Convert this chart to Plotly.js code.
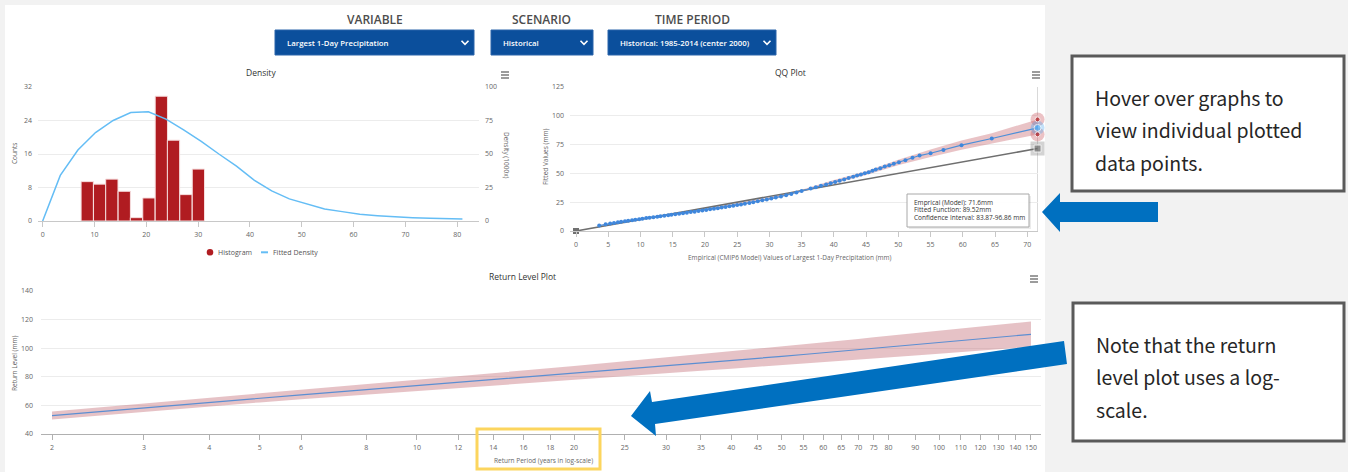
<!DOCTYPE html>
<html><head><meta charset="utf-8">
<script src="https://cdn.plot.ly/plotly-3.0.1.min.js"></script>
<style>html,body{margin:0;padding:0;background:#f2f2f2;}#chart{width:1348px;height:472px;}</style>
</head><body><div id="chart"></div>
<script>
// ---------------- DATA ----------------
const headerLabels = ["VARIABLE", "SCENARIO", "TIME PERIOD"];
const dropdownTexts = ["Largest 1-Day Precipitation", "Historical", "Historical: 1985-2014 (center 2000)"];
const legendNames = ["Histogram", "Fitted Density"];

const histBinCenters = [8.6, 11.0, 13.35, 15.75, 18.1, 20.5, 22.9, 25.25, 27.65, 30.05];
const histCounts = [9.4, 8.8, 10.0, 7.1, 0.8, 5.5, 29.8, 19.3, 6.3, 12.4];
const histBinWidth = 2.37;

const densityX = [0, 3.4, 6.8, 10.2, 13.6, 17.0, 20.4, 23.8, 27.2, 30.6, 34.0, 37.4, 40.8, 44.2, 47.6, 51.0, 54.4, 57.8, 61.2, 64.6, 68.0, 71.4, 74.8, 78.2, 81.0];
const densityY = [0, 34, 53, 66, 75, 81, 81.5, 76, 68, 59.5, 50, 41, 30.5, 22.5, 16.5, 12.5, 9.0, 7.0, 5.0, 4.0, 3.1, 2.5, 2.0, 1.7, 1.5];

const qqEmpirical = [3.6, 4.6, 5.3, 5.9, 6.5, 7.0, 7.6, 8.1, 8.7, 9.2, 9.8, 10.3, 10.9, 11.4, 12.0, 12.6, 13.1, 13.7, 14.3, 14.8, 15.4, 16.0, 16.6, 17.2, 17.8, 18.4, 19.0, 19.6, 20.2, 20.8, 21.4, 22.0, 22.6, 23.2, 23.8, 24.4, 25.0, 25.6, 26.2, 26.9, 27.5, 28.2, 28.9, 29.6, 30.3, 31.0, 31.8, 32.6, 33.4, 34.2, 35.0, 36.4, 37.2, 38.0, 38.8, 39.5, 40.2, 40.9, 41.6, 42.3, 43.0, 43.6, 44.2, 44.8, 45.4, 46.0, 46.5, 47.2, 47.9, 48.6, 49.3, 50.1, 51.1, 52.2, 53.3, 55.0, 57.0, 59.8, 64.5, 71.6];
const qqFitted = [4.7, 5.8, 6.5, 7.0, 7.5, 8.0, 8.5, 9.0, 9.4, 9.8, 10.3, 10.7, 11.2, 11.6, 12.0, 12.4, 12.8, 13.3, 13.7, 14.1, 14.5, 15.0, 15.4, 15.9, 16.4, 16.8, 17.3, 17.8, 18.3, 18.8, 19.3, 19.8, 20.3, 20.8, 21.4, 21.9, 22.5, 23.1, 23.7, 24.4, 25.0, 25.8, 26.6, 27.4, 28.2, 29.0, 30.0, 31.1, 32.2, 33.4, 34.7, 36.8, 38.0, 39.2, 40.4, 41.5, 42.6, 43.7, 44.8, 45.9, 47.1, 48.1, 49.1, 50.1, 51.1, 52.2, 53.3, 54.5, 55.9, 57.1, 58.3, 59.7, 61.4, 63.5, 65.5, 67.5, 70.4, 74.5, 80.3, 89.52];
const qqBandX = [3.6, 10, 20, 30, 35, 40, 45, 50.1, 55, 59.8, 64.5, 71.6];
const qqBandLow = [4.2, 9.9, 17.7, 27.2, 33.8, 41.0, 48.6, 57.4, 64.3, 70.6, 75.9, 83.87];
const qqBandHigh = [5.2, 11.1, 19.1, 29.2, 35.8, 44.2, 51.9, 62.0, 70.8, 78.5, 84.8, 96.86];
const qqTooltipLines = ["Emprical (Model): 71.6mm", "Fitted Function: 89.52mm", "Confidence Interval: 83.87-96.86 mm"];

const returnPeriods = [2, 3, 4, 5, 6, 8, 10, 12, 14, 16, 18, 20, 25, 30, 35, 40, 45, 50, 55, 60, 65, 70, 75, 80, 90, 100, 110, 120, 130, 140, 150];
const returnLevel = [52.8, 58.3, 62.2, 65.1, 67.4, 71.0, 73.8, 76.0, 77.9, 79.6, 81.1, 82.4, 85.3, 87.6, 89.6, 91.4, 92.9, 94.3, 95.6, 96.8, 97.9, 98.9, 99.9, 100.8, 102.4, 103.9, 105.2, 106.5, 107.6, 108.7, 109.7];
const returnUpper = [55.8, 61.3, 65.3, 68.3, 70.8, 74.7, 77.8, 80.3, 82.4, 84.3, 86.0, 87.5, 90.8, 93.5, 95.8, 97.9, 99.6, 101.1, 102.6, 104.0, 105.3, 106.5, 107.6, 108.6, 110.6, 112.4, 113.9, 115.3, 116.6, 117.7, 118.7];
const returnLower = [50.2, 55.6, 59.3, 62.1, 64.3, 67.6, 70.2, 72.2, 74.0, 75.5, 76.8, 78.0, 80.5, 82.5, 84.2, 85.7, 87.0, 88.2, 89.3, 90.3, 91.2, 92.0, 92.8, 93.5, 94.9, 96.1, 97.2, 98.2, 99.2, 100.1, 101.0];

const noteLines1 = ["Hover over graphs to", "view individual plotted", "data points."];
const noteLines2 = ["Note that the return", "level plot uses a log-", "scale."];

// ---------------- HELPERS ----------------
const W = 1348, H = 472;
const px = x => x / W;
const py = y => 1 - y / H;
const FONT = "Open Sans";
const tickFont = {family: FONT, size: 7, color: "#666"};
const last = a => a[a.length - 1];
const HIST_COLOR = "#b01c21";
const DENS_COLOR = "#64bdf5";

// ---------------- TRACES ----------------
const traces = [];
traces.push({type: "bar", x: histBinCenters, y: histCounts, width: histBinWidth, name: legendNames[0],
  marker: {color: HIST_COLOR, line: {color: "#f6dede", width: 1}}, xaxis: "x", yaxis: "y",
  showlegend: false, hoverinfo: "skip"});
traces.push({type: "scatter", mode: "lines", x: densityX, y: densityY, name: legendNames[1],
  line: {color: DENS_COLOR, width: 1.5}, xaxis: "x", yaxis: "y2", showlegend: false});

traces.push({type: "scatter", mode: "lines", fill: "toself",
  x: qqBandX.concat(qqBandX.slice().reverse()),
  y: qqBandHigh.concat(qqBandLow.slice().reverse()),
  line: {width: 0}, fillcolor: "rgba(196,96,106,0.38)", xaxis: "x2", yaxis: "y3", showlegend: false, hoverinfo: "skip"});
const qqLineX = [0].concat(qqEmpirical);
traces.push({type: "scatter", mode: "lines", x: qqLineX, y: qqLineX,
  line: {color: "#6f6f6f", width: 1.6}, xaxis: "x2", yaxis: "y3", showlegend: false, hoverinfo: "skip"});
traces.push({type: "scatter", mode: "markers", x: [qqLineX[0]], y: [qqLineX[0]],
  marker: {color: "#707070", size: 6, symbol: "square"}, xaxis: "x2", yaxis: "y3", showlegend: false, cliponaxis: false});
traces.push({type: "scatter", mode: "lines+markers", x: qqEmpirical, y: qqFitted,
  line: {color: "#4d8fd8", width: 1.2}, marker: {color: "#3f87dc", size: 4},
  xaxis: "x2", yaxis: "y3", showlegend: false, hoverinfo: "skip"});
const lx = last(qqEmpirical);
const hlY = [last(qqBandHigh), last(qqBandLow), last(qqFitted), lx];
traces.push({type: "scatter", mode: "markers", x: [lx, lx, lx, lx], y: hlY,
  marker: {size: 14, color: ["rgba(200,80,90,0.35)", "rgba(200,80,90,0.35)", "rgba(80,170,240,0.35)", "rgba(110,110,110,0.3)"], symbol: ["circle", "circle", "circle", "square"]},
  xaxis: "x2", yaxis: "y3", showlegend: false, cliponaxis: false, hoverinfo: "skip"});
traces.push({type: "scatter", mode: "markers", x: [lx, lx, lx, lx], y: hlY,
  marker: {size: [5, 5, 7, 7], color: [HIST_COLOR, HIST_COLOR, "#5fb6f7", "#707070"], symbol: ["circle", "circle", "circle", "square"]},
  xaxis: "x2", yaxis: "y3", showlegend: false, cliponaxis: false, hoverinfo: "skip"});

traces.push({type: "scatter", mode: "lines", fill: "toself",
  x: returnPeriods.concat(returnPeriods.slice().reverse()),
  y: returnUpper.concat(returnLower.slice().reverse()),
  line: {width: 0}, fillcolor: "rgba(196,110,120,0.42)", xaxis: "x3", yaxis: "y4", showlegend: false, hoverinfo: "skip"});
traces.push({type: "scatter", mode: "lines", x: returnPeriods, y: returnLevel,
  line: {color: "#5b8ed2", width: 1.2}, xaxis: "x3", yaxis: "y4", showlegend: false, hoverinfo: "skip"});

// ---------------- SHAPES ----------------
const shapes = [];
const rectPx = (x0, y0, x1, y1, opt) => Object.assign({type: "rect", xref: "paper", yref: "paper",
  x0: px(x0), x1: px(x1), y0: py(y1), y1: py(y0)}, opt);
const pathPx = (pts, opt) => Object.assign({type: "path", xref: "paper", yref: "paper",
  path: "M" + pts.map(p => px(p[0]).toFixed(5) + "," + py(p[1]).toFixed(5)).join(" L") + " Z"}, opt);
const linePx = (x0, y0, x1, y1, opt) => Object.assign({type: "line", xref: "paper", yref: "paper",
  x0: px(x0), x1: px(x1), y0: py(y0), y1: py(y1)}, opt);

shapes.push(rectPx(5, 5, 1045, 480, {fillcolor: "#ffffff", line: {width: 0}, layer: "below"}));
const ddBoxes = [[275, 474], [491, 593], [608, 776]];
ddBoxes.forEach(b => {
  shapes.push(rectPx(b[0], 30, b[1], 55, {fillcolor: "#0b4f9c", line: {color: "#2a64aa", width: 1}}));
  const cx = b[1] - 9, cy = 42.5;
  shapes.push({type: "path", xref: "paper", yref: "paper",
    path: `M${px(cx - 3.5)},${py(cy - 1.8)} L${px(cx)},${py(cy + 1.8)} L${px(cx + 3.5)},${py(cy - 1.8)}`,
    line: {color: "#ffffff", width: 1.6}});
});
[[505, 75], [1036, 75], [1034, 279]].forEach(p => {
  [-3, 0, 3].forEach(d => shapes.push(linePx(p[0] - 4, p[1] + d, p[0] + 4, p[1] + d, {line: {color: "#666", width: 1.3}})));
});
shapes.push({type: "circle", xref: "paper", yref: "paper", x0: px(206.7), x1: px(213.3), y0: py(255.6), y1: py(248.9),
  fillcolor: HIST_COLOR, line: {width: 0}});
shapes.push(linePx(261, 252.3, 268, 252.3, {line: {color: DENS_COLOR, width: 2}}));
shapes.push({type: "line", xref: "x2", yref: "y3 domain", x0: lx, x1: lx, y0: 0, y1: 1, line: {color: "#d8d8d8", width: 1}, layer: "below"});
shapes.push(rectPx(909, 196, 1031, 229, {fillcolor: "rgba(0,0,0,0.08)", line: {width: 0}}));
shapes.push(rectPx(907, 194, 1029, 227, {fillcolor: "rgba(255,255,255,0.96)", line: {color: "#a8a8a8", width: 1}}));
// yellow highlight box
shapes.push(rectPx(477, 429, 600, 469, {fillcolor: "rgba(0,0,0,0)", line: {color: "#fcd55e", width: 3}}));
shapes.push(rectPx(1072, 56, 1344, 191, {fillcolor: "#ffffff", line: {color: "#5a5a5a", width: 3}}));
shapes.push(rectPx(1073, 303, 1344, 441, {fillcolor: "#ffffff", line: {color: "#5a5a5a", width: 3}}));
shapes.push(pathPx([[1042, 212], [1060, 193], [1060, 202], [1158, 202], [1158, 222], [1060, 222], [1060, 232]],
  {fillcolor: "#0070c0", line: {width: 0}}));
shapes.push(pathPx([[631, 416], [650, 391], [652, 402], [1064, 341], [1067, 364], [655, 424], [656, 436]],
  {fillcolor: "#0070c0", line: {width: 0}}));

// ---------------- ANNOTATIONS ----------------
const ann = [];
const txt = (x, y, text, opt) => Object.assign({xref: "paper", yref: "paper", x: px(x), y: py(y), text: text,
  showarrow: false, xanchor: "center", yanchor: "middle", font: {family: FONT, size: 8, color: "#333"}}, opt);

[375, 541, 692].forEach((x, i) => ann.push(txt(x, 19, headerLabels[i], {font: {family: FONT, size: 12, color: "#4d4d4d", weight: 600}})));
ddBoxes.forEach((b, i) => ann.push(txt(b[0] + 10, 42.5, dropdownTexts[i], {xanchor: "left", font: {family: FONT, size: 7.8, color: "#ffffff", weight: 600}})));

ann.push(txt(261, 72, "Density", {font: {family: FONT, size: 8.5, color: "#333"}}));
ann.push(txt(790, 72, "QQ Plot", {font: {family: FONT, size: 8.5, color: "#333"}}));
ann.push(txt(522, 276, "Return Level Plot", {font: {family: FONT, size: 8.5, color: "#333"}}));

const legFont = {family: FONT, size: 7, color: "#555"};
ann.push(txt(216, 252.3, legendNames[0], {xanchor: "left", font: legFont}));
ann.push(txt(271, 252.3, legendNames[1], {xanchor: "left", font: legFont}));

const axTitle = {family: FONT, size: 6.5, color: "#666"};
ann.push(txt(14, 154, "Counts", {textangle: -90, font: axTitle}));
ann.push(txt(507, 155, "Density (1000x)", {textangle: 90, font: axTitle}));
ann.push(txt(545, 157, "Fitted Values (mm)", {textangle: -90, font: axTitle}));
ann.push(txt(790, 257, "Empirical (CMIP6 Model) Values of Largest 1-Day Precipitation (mm)", {font: axTitle}));
ann.push(txt(14, 363, "Return Level (mm)", {textangle: -90, font: axTitle}));
ann.push(txt(543, 460, "Return Period (years in log-scale)", {font: axTitle}));

qqTooltipLines.forEach((t, i) => ann.push(txt(912, 202 + i * 7.8, t, {xanchor: "left", font: {family: FONT, size: 6.5, color: "#333"}})));

const noteFont = {family: "Noto Sans CJK SC", size: 19.5, color: "#262626"};
noteLines1.forEach((t, i) => ann.push(txt(1093, 97 + i * 32.7, t, {xanchor: "left", font: noteFont})));
noteLines2.forEach((t, i) => ann.push(txt(1094, 344 + i * 32.7, t, {xanchor: "left", font: noteFont})));

// ---------------- LAYOUT ----------------
const gridColor = "#ececec";
const axisLine = "#c8c8c8";
const layout = {
  width: W, height: H, margin: {l: 0, r: 0, t: 0, b: 0},
  paper_bgcolor: "#f2f2f2", plot_bgcolor: "rgba(0,0,0,0)",
  font: {family: FONT, color: "#666"},
  bargap: 0,
  showlegend: false,
  xaxis: {domain: [px(38), px(479)], anchor: "y", range: [-0.9, 84.2], tickvals: [0, 10, 20, 30, 40, 50, 60, 70, 80],
    showgrid: false, zeroline: false, showline: true, linecolor: axisLine, ticks: "outside", ticklen: 5, tickcolor: axisLine,
    tickfont: tickFont, ticklabelstandoff: 2},
  yaxis: {domain: [py(221), py(87)], anchor: "x", range: [0, 32], tickvals: [0, 8, 16, 24, 32],
    gridcolor: gridColor, zeroline: false, showline: false, tickfont: tickFont, ticklabelstandoff: 5},
  yaxis2: {overlaying: "y", side: "right", anchor: "x", range: [0, 100], tickvals: [0, 25, 50, 75, 100],
    showgrid: false, zeroline: false, showline: false, tickfont: tickFont, ticklabelstandoff: 5},
  xaxis2: {domain: [px(570), px(1038)], anchor: "y3", range: [-0.93, 71.67], tickvals: [0, 5, 10, 15, 20, 25, 30, 35, 40, 45, 50, 55, 60, 65, 70],
    showgrid: false, zeroline: false, showline: true, linecolor: axisLine, ticks: "outside", ticklen: 5, tickcolor: axisLine,
    tickfont: tickFont, ticklabelstandoff: 2},
  yaxis3: {domain: [py(231), py(87)], anchor: "x2", range: [0, 125], tickvals: [0, 25, 50, 75, 100, 125],
    gridcolor: gridColor, zeroline: false, showline: false, tickfont: tickFont, ticklabelstandoff: 5},
  xaxis3: {domain: [px(41), px(1041)], anchor: "y4", type: "log", range: [0.27996, 2.1953],
    tickmode: "array", tickvals: returnPeriods, ticktext: returnPeriods.map(String),
    showgrid: false, zeroline: false, showline: true, linecolor: "#b0b0b0", ticks: "outside", ticklen: 5, tickcolor: "#b0b0b0",
    tickfont: tickFont, ticklabelstandoff: 2},
  yaxis4: {domain: [py(434), py(291)], anchor: "x3", range: [40, 140], tickvals: [40, 60, 80, 100, 120, 140],
    gridcolor: gridColor, zeroline: false, showline: false, tickfont: tickFont, ticklabelstandoff: 7},
  shapes: shapes,
  annotations: ann
};

Plotly.newPlot("chart", traces, layout, {displayModeBar: false, staticPlot: true});
</script>
</body></html>
